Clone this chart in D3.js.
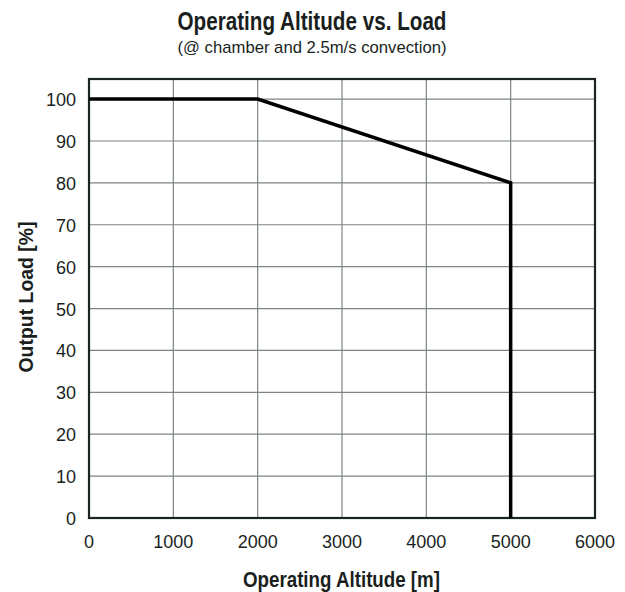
<!DOCTYPE html>
<html>
<head>
<meta charset="utf-8">
<script src="https://cdn.jsdelivr.net/npm/d3@7"></script>
<style>
  body { margin: 0; background: #fff; }
  text { font-family: "Liberation Sans", Arial, sans-serif; fill: #1a1f1e; }
</style>
</head>
<body>
<script>
// derating curve: altitude [m] vs output load [%]
const altitude = [0, 2000, 5000, 5000];
const load = [100, 100, 80, 0];
const xTicks = [0, 1000, 2000, 3000, 4000, 5000, 6000];
const yTicks = [0, 10, 20, 30, 40, 50, 60, 70, 80, 90, 100];

const width = 625, height = 592;
const margin = {top: 79, right: 30, bottom: 74, left: 89};

const svg = d3.select("body").append("svg")
    .attr("width", width)
    .attr("height", height);

const x = d3.scaleLinear().domain([0, 6000]).range([margin.left, width - margin.right]);
const y = d3.scaleLinear().domain([0, 104.8]).range([height - margin.bottom, margin.top]);

// grid
svg.append("g").selectAll("line")
    .data(xTicks.slice(1, -1))
    .enter().append("line")
    .attr("x1", d => x(d)).attr("x2", d => x(d))
    .attr("y1", y(0)).attr("y2", y(104.8))
    .attr("stroke", "#7d8582").attr("stroke-width", 1.2);

svg.append("g").selectAll("line")
    .data(yTicks.slice(1))
    .enter().append("line")
    .attr("x1", x(0)).attr("x2", x(6000))
    .attr("y1", d => y(d)).attr("y2", d => y(d))
    .attr("stroke", "#7d8582").attr("stroke-width", 1.2);

// frame
svg.append("rect")
    .attr("x", x(0)).attr("y", y(104.8))
    .attr("width", x(6000) - x(0))
    .attr("height", y(0) - y(104.8))
    .attr("fill", "none")
    .attr("stroke", "#1a2421")
    .attr("stroke-width", 2.2);

// tick labels
svg.append("g").selectAll("text")
    .data(xTicks)
    .enter().append("text")
    .attr("x", d => x(d))
    .attr("y", 548)
    .attr("text-anchor", "middle")
    .style("font-size", "18px")
    .text(d => d);

svg.append("g").selectAll("text")
    .data(yTicks)
    .enter().append("text")
    .attr("x", 76)
    .attr("y", d => y(d) + 7)
    .attr("text-anchor", "end")
    .style("font-size", "18px")
    .text(d => d);

// curve
const line = d3.line()
    .x(d => x(d[0]))
    .y(d => y(d[1]));

svg.append("path")
    .datum(altitude.map((a, i) => [a, load[i]]))
    .attr("d", line)
    .attr("fill", "none")
    .attr("stroke", "#000")
    .attr("stroke-width", 3.5)
    .attr("stroke-linejoin", "miter");

// titles (condensed look: squeeze glyphs to the reference width)
function label(xp, yp, size, bold, len, txt, rot) {
    const t = svg.append("text")
        .attr("transform", "translate(" + xp + "," + yp + ")" + (rot ? " rotate(-90)" : ""))
        .attr("text-anchor", "middle")
        .attr("textLength", len)
        .attr("lengthAdjust", "spacingAndGlyphs")
        .style("font-size", size + "px")
        .style("font-weight", bold ? "bold" : "normal")
        .text(txt);
    return t;
}

label(312, 30, 25, true, 269, "Operating Altitude vs. Load");
label(312, 53, 17, false, 269, "(@ chamber and 2.5m/s convection)");
label(x(3000) - 0.5, 587, 22, true, 197, "Operating Altitude [m]");
label(33, 297, 21, true, 151, "Output Load [%]", true);
</script>
</body>
</html>
